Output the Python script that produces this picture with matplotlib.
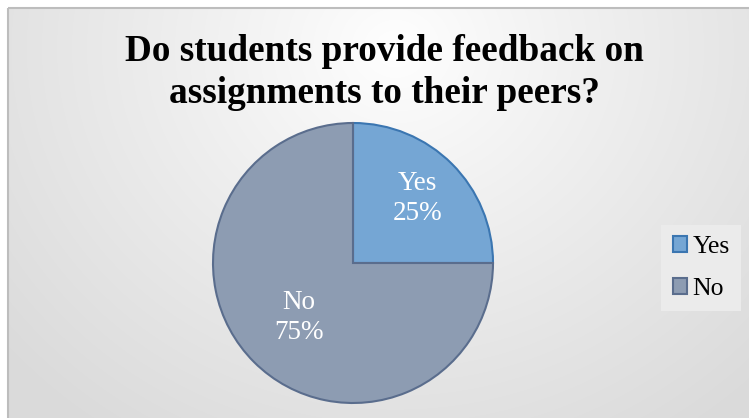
import numpy as np
import matplotlib
matplotlib.use("Agg")
import matplotlib.pyplot as plt
from matplotlib.patches import Rectangle, Patch

# Survey answers
categories = ["Yes", "No"]
shares = [25, 75]
title_lines = ["Do students provide feedback on", "assignments to their peers?"]

fill_colors = ["#75a6d4", "#8d9cb2"]
edge_colors = ["#3b76b1", "#5a6d8d"]

W, H = 749, 418
fig = plt.figure(figsize=(W / 100, H / 100), dpi=100)
fig.patch.set_facecolor("white")

# Chart-area background: soft radial gradient inside a thin grey frame
bg = fig.add_axes([0, 0, 1, 1])
bg.axis("off")
yy, xx = np.mgrid[0:H, 0:W]
d = np.hypot((xx - 385) / 1.0, (yy - 40) / 0.9)
t = np.clip(d / 520.0, 0, 1) ** 0.9
grey = 1.0 - t * (1.0 - 0.855)
img = np.dstack([grey, grey, grey])
bg.imshow(img, extent=(8, W + 12, H + 12, 8), zorder=0, interpolation="bilinear")
bg.add_patch(Rectangle((8, 8), W + 4, H + 4, fill=False, edgecolor="#bdbdbd",
                       linewidth=1.5, zorder=1))
bg.set_xlim(0, W)
bg.set_ylim(H, 0)

# Title
for i, line in enumerate(title_lines):
    fig.text(384 / W, 1 - (61 + 42 * i) / H, line, ha="center", va="baseline",
             fontsize=26.8, fontweight="bold", family="Liberation Serif",
             color="black")

# Pie
ax = fig.add_axes([213 / W, 1 - 403 / H, 280 / W, 280 / H])
wedges, texts = ax.pie(
    shares, labels=None, startangle=90, counterclock=False, radius=1.0,
    colors=fill_colors,
    wedgeprops=dict(linewidth=1.5),
)
for w, ec in zip(wedges, edge_colors):
    w.set_edgecolor(ec)
    w.set_clip_on(False)
ax.set_xlim(-1, 1)
ax.set_ylim(-1, 1)
ax.set_aspect("equal")
ax.axis("off")

# Data labels (category + percentage) placed along each wedge's bisector
label_dist = [0.65, 0.55]
total = float(sum(shares))
start = 90.0
for cat, val, dist in zip(categories, shares, label_dist):
    sweep = 360.0 * val / total
    mid = np.deg2rad(start - sweep / 2)
    start -= sweep
    ax.text(dist * np.cos(mid), dist * np.sin(mid),
            f"{cat}\n{val / total * 100:.0f}%", ha="center", va="center",
            fontsize=19.5, family="Liberation Serif", color="white",
            linespacing=1.25)

# Legend
handles = [Patch(facecolor=f, edgecolor=e, linewidth=1.5)
           for f, e in zip(fill_colors, edge_colors)]
leg = fig.legend(handles, categories, loc="center left",
                 bbox_to_anchor=(661 / W, 1 - 268 / H),
                 prop=dict(family="Liberation Serif", size=18.5),
                 frameon=True, fancybox=False, handlelength=0.58,
                 handleheight=0.58, handletextpad=0.2, labelspacing=0.75,
                 borderpad=0.45, borderaxespad=0)
leg.get_frame().set_facecolor("#ebebeb")
leg.get_frame().set_edgecolor("none")
leg.get_frame().set_alpha(1)

fig.savefig("out.png", dpi=100)
